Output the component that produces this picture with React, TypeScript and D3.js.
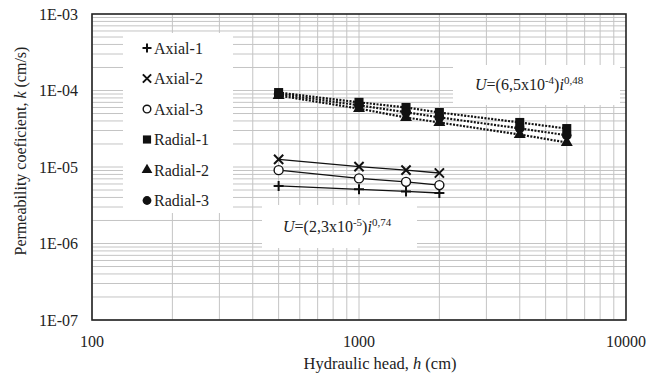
import React from 'react'
import * as d3 from 'd3'

const hAxial = [500, 1000, 1500, 2000]
const axial1 = [5.65e-6, 5.1e-6, 4.8e-6, 4.57e-6]
const axial2 = [1.26e-5, 1.01e-5, 9.1e-6, 8.35e-6]
const axial3 = [9.1e-6, 7.1e-6, 6.4e-6, 5.8e-6]

const hRadial = [500, 1000, 1500, 2000, 4000, 6000]
const radial1 = [9.4e-5, 7.0e-5, 6.0e-5, 5.15e-5, 3.82e-5, 3.18e-5]
const radial2 = [8.6e-5, 5.8e-5, 4.44e-5, 3.82e-5, 2.66e-5, 2.09e-5]
const radial3 = [9.0e-5, 6.4e-5, 5.2e-5, 4.45e-5, 3.2e-5, 2.6e-5]

const xTicks = [100, 1000, 10000]
const xTickLabels = ['100', '1000', '10000']
const yTicks = [1e-7, 1e-6, 1e-5, 1e-4, 1e-3]
const yTickLabels = ['1E-07', '1E-06', '1E-05', '1E-04', '1E-03']

const series = [
  { name: 'Axial-1', h: hAxial, k: axial1, marker: 'plus', dotted: false },
  { name: 'Axial-2', h: hAxial, k: axial2, marker: 'x', dotted: false },
  { name: 'Axial-3', h: hAxial, k: axial3, marker: 'open', dotted: false },
  { name: 'Radial-1', h: hRadial, k: radial1, marker: 'square', dotted: true },
  { name: 'Radial-2', h: hRadial, k: radial2, marker: 'triangle', dotted: true },
  { name: 'Radial-3', h: hRadial, k: radial3, marker: 'dot', dotted: true },
]

const W = 649
const H = 375
const left = 92
const right = 626
const top = 14
const bottom = 320
const font = '"Liberation Serif", "Times New Roman", serif'
const gridColor = '#c4c4c4'

function Marker({ type, x, y, s = 1 }: { type: string; x: number; y: number; s?: number }) {
  if (type === 'plus') {
    const r = 5 * s
    return (
      <path d={`M${x - r},${y}H${x + r}M${x},${y - r}V${y + r}`} stroke="#111" strokeWidth={2} />
    )
  }
  if (type === 'x') {
    const r = 4.6 * s
    return (
      <path d={`M${x - r},${y - r}L${x + r},${y + r}M${x - r},${y + r}L${x + r},${y - r}`} stroke="#111" strokeWidth={2} />
    )
  }
  if (type === 'open') {
    return <circle cx={x} cy={y} r={4.5 * s} fill="#fff" stroke="#111" strokeWidth={1.4} />
  }
  const sym = type === 'square' ? d3.symbolSquare : type === 'triangle' ? d3.symbolTriangle : d3.symbolCircle
  const size = type === 'triangle' ? 62 : type === 'square' ? 82 : 75
  const p = d3.symbol().type(sym).size(size * s * s)()
  return <path d={p || ''} transform={`translate(${x},${y})`} fill="#111" />
}

export default function App() {
  const x = d3.scaleLog().domain([100, 10000]).range([left, right])
  const y = d3.scaleLog().domain([1e-7, 1e-3]).range([bottom, top])

  const vGrid: number[] = []
  const hGrid: number[] = []
  for (let e = 2; e < 4; e++) for (let m = 1; m < 10; m++) vGrid.push(m * 10 ** e)
  for (let e = -7; e < -3; e++) for (let m = 1; m < 10; m++) hGrid.push(m * 10 ** e)

  const line = d3.line<[number, number]>().x((d) => x(d[0])).y((d) => y(d[1]))

  const legendX = 147
  const legendY0 = 48
  const legendStep = 30.5

  return (
    <svg width={W} height={H} style={{ position: 'absolute', left: 0, top: 0, background: '#fff' }} fontFamily={font}>
      <rect width={W} height={H} fill="#fff" />
      <g>
        {vGrid.map((v) => (
          <line key={'v' + v} x1={x(v)} x2={x(v)} y1={top} y2={bottom} stroke={gridColor} strokeWidth={1} />
        ))}
        {hGrid.map((v) => (
          <line key={'h' + v} x1={left} x2={right} y1={y(v)} y2={y(v)} stroke={gridColor} strokeWidth={1} />
        ))}
      </g>

      {/* white label boxes */}
      <rect x={123} y={33} width={110} height={180} fill="#fff" />
      <rect x={453} y={65} width={167} height={40} fill="#fff" />
      <rect x={262} y={205} width={155} height={43} fill="#fff" />

      <rect x={left} y={top} width={right - left} height={bottom - top} fill="none" stroke="#222" strokeWidth={1.6} />

      {series.map((s) => (
        <path
          key={'l' + s.name}
          d={line(s.h.map((h, i) => [h, s.k[i]] as [number, number])) || ''}
          fill="none"
          stroke="#111"
          strokeWidth={s.dotted ? 2.2 : 1.3}
          strokeDasharray={s.dotted ? '2,1.4' : undefined}
        />
      ))}
      {series.map((s) =>
        s.h.map((h, i) => <Marker key={s.name + h} type={s.marker} x={x(h)} y={y(s.k[i])} />)
      )}

      {/* legend */}
      {series.map((s, i) => (
        <g key={'lg' + s.name}>
          <Marker type={s.marker} x={legendX} y={legendY0 + i * legendStep} s={s.marker === 'open' ? 0.85 : 0.9} />
          <text x={legendX + 7} y={legendY0 + i * legendStep + 5.5} fontSize={16} fill="#222">
            {s.name}
          </text>
        </g>
      ))}

      {/* equations */}
      <text x={475} y={90} fontSize={16} fill="#222">
        <tspan fontStyle="italic">U</tspan>=(6,5x10
        <tspan fontSize={11} dy={-6}>-4</tspan>
        <tspan dy={6}>)</tspan>
        <tspan fontStyle="italic">i</tspan>
        <tspan fontSize={11} dy={-6}>0,48</tspan>
      </text>
      <text x={283} y={232} fontSize={16} fill="#222">
        <tspan fontStyle="italic">U</tspan>=(2,3x10
        <tspan fontSize={11} dy={-6}>-5</tspan>
        <tspan dy={6}>)</tspan>
        <tspan fontStyle="italic">i</tspan>
        <tspan fontSize={11} dy={-6}>0,74</tspan>
      </text>

      {/* axes labels */}
      {yTicks.map((v, i) => (
        <text key={'yt' + v} x={78} y={y(v) + 5.5} fontSize={16} textAnchor="end" fill="#222">
          {yTickLabels[i]}
        </text>
      ))}
      {xTicks.map((v, i) => (
        <text key={'xt' + v} x={x(v)} y={347} fontSize={16} textAnchor="middle" fill="#222">
          {xTickLabels[i]}
        </text>
      ))}
      <text x={380} y={369} fontSize={16.5} textAnchor="middle" fill="#222">
        Hydraulic head, <tspan fontStyle="italic">h</tspan> (cm)
      </text>
      <text transform="translate(26,151) rotate(-90)" fontSize={16} textAnchor="middle" fill="#222">
        Permeability coeficient, <tspan fontStyle="italic">k</tspan> (cm/s)
      </text>
    </svg>
  )
}
